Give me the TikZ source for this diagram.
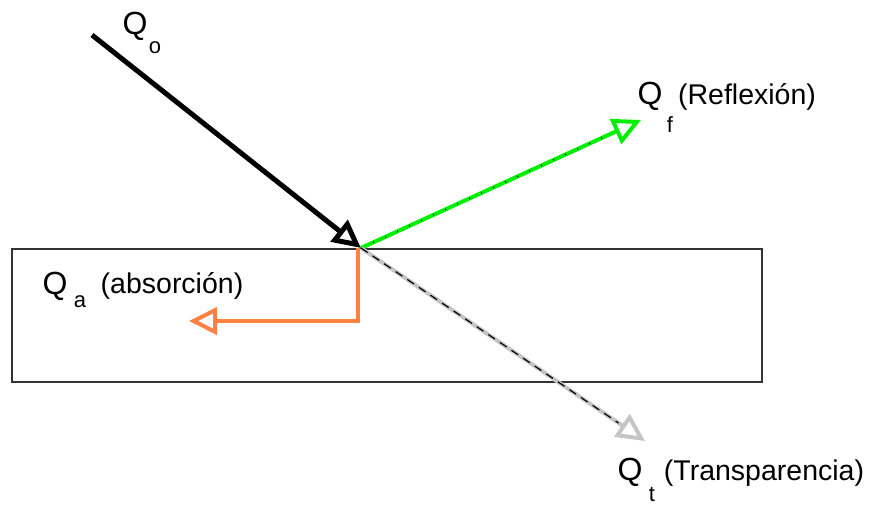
\documentclass[tikz,border=0pt]{standalone}
\usepackage{fontspec}
\setmainfont{Liberation Sans}
\usepackage{xcolor}
\usepackage{tikz}
\usetikzlibrary{arrows.meta}
\definecolor{raygreen}{HTML}{00F000}
\definecolor{raygray}{HTML}{C4C4C4}
\definecolor{rayorange}{HTML}{FF8040}
\definecolor{slabline}{HTML}{333333}
\tikzset{
  ray/.style={line width=4pt,-{Triangle[open,length=28pt,width=27pt]}},
  qmain/.style={inner sep=0pt,font=\fontsize{32}{36}\selectfont},
  qsub/.style={inner sep=0pt,font=\fontsize{22}{26}\selectfont},
  qnote/.style={inner sep=0pt,font=\fontsize{28.5}{32}\selectfont}
}
\begin{document}
\begin{tikzpicture}[x=1pt,y=-1pt]
\useasboundingbox (0,0) rectangle (871,506);
\draw[slabline,line width=2.5pt](12,249)rectangle(762,382);
\coordinate (src) at (92,35);
\coordinate (hit) at (361,248);
\coordinate (refl) at (641,120);
\coordinate (trans) at (645,441);
\coordinate (bend) at (358,321);
\coordinate (absb) at (189,321);
% rays
\draw[ray,black,line width=5pt](src)--(hit);
\draw[ray,raygreen,postaction={draw=black,line width=1.2pt,dash pattern=on 1.2pt off 12pt,-,shorten >=32pt}](hit)--(refl);
\draw[ray,raygray,postaction={draw=black,line width=1.2pt,dash pattern=on 8pt off 6pt,-,shorten >=32pt}](hit)--(trans);
\draw[ray,rayorange](hit-|bend)--(bend)--(absb);
% labels
\node[qmain] (qo) at (135,26) {Q};
\node[qsub] (qosub) at (155,48) {o};
\node[qmain] (qf) at (650,96) {Q};
\node[qsub] (qfsub) at (670,125) {f};
\node[qnote] (qfnote) at (747,97) {(Reflexión)};
\node[qmain] (qa) at (55,286) {Q};
\node[qsub] (qasub) at (80,302) {a};
\node[qnote] (qanote) at (172,286) {(absorción)};
\node[qmain] (qt) at (630,472) {Q};
\node[qsub] (qtsub) at (652,494) {t};
\node[qnote] (qtnote) at (764,473) {(Transparencia)};
\end{tikzpicture}
\end{document}
